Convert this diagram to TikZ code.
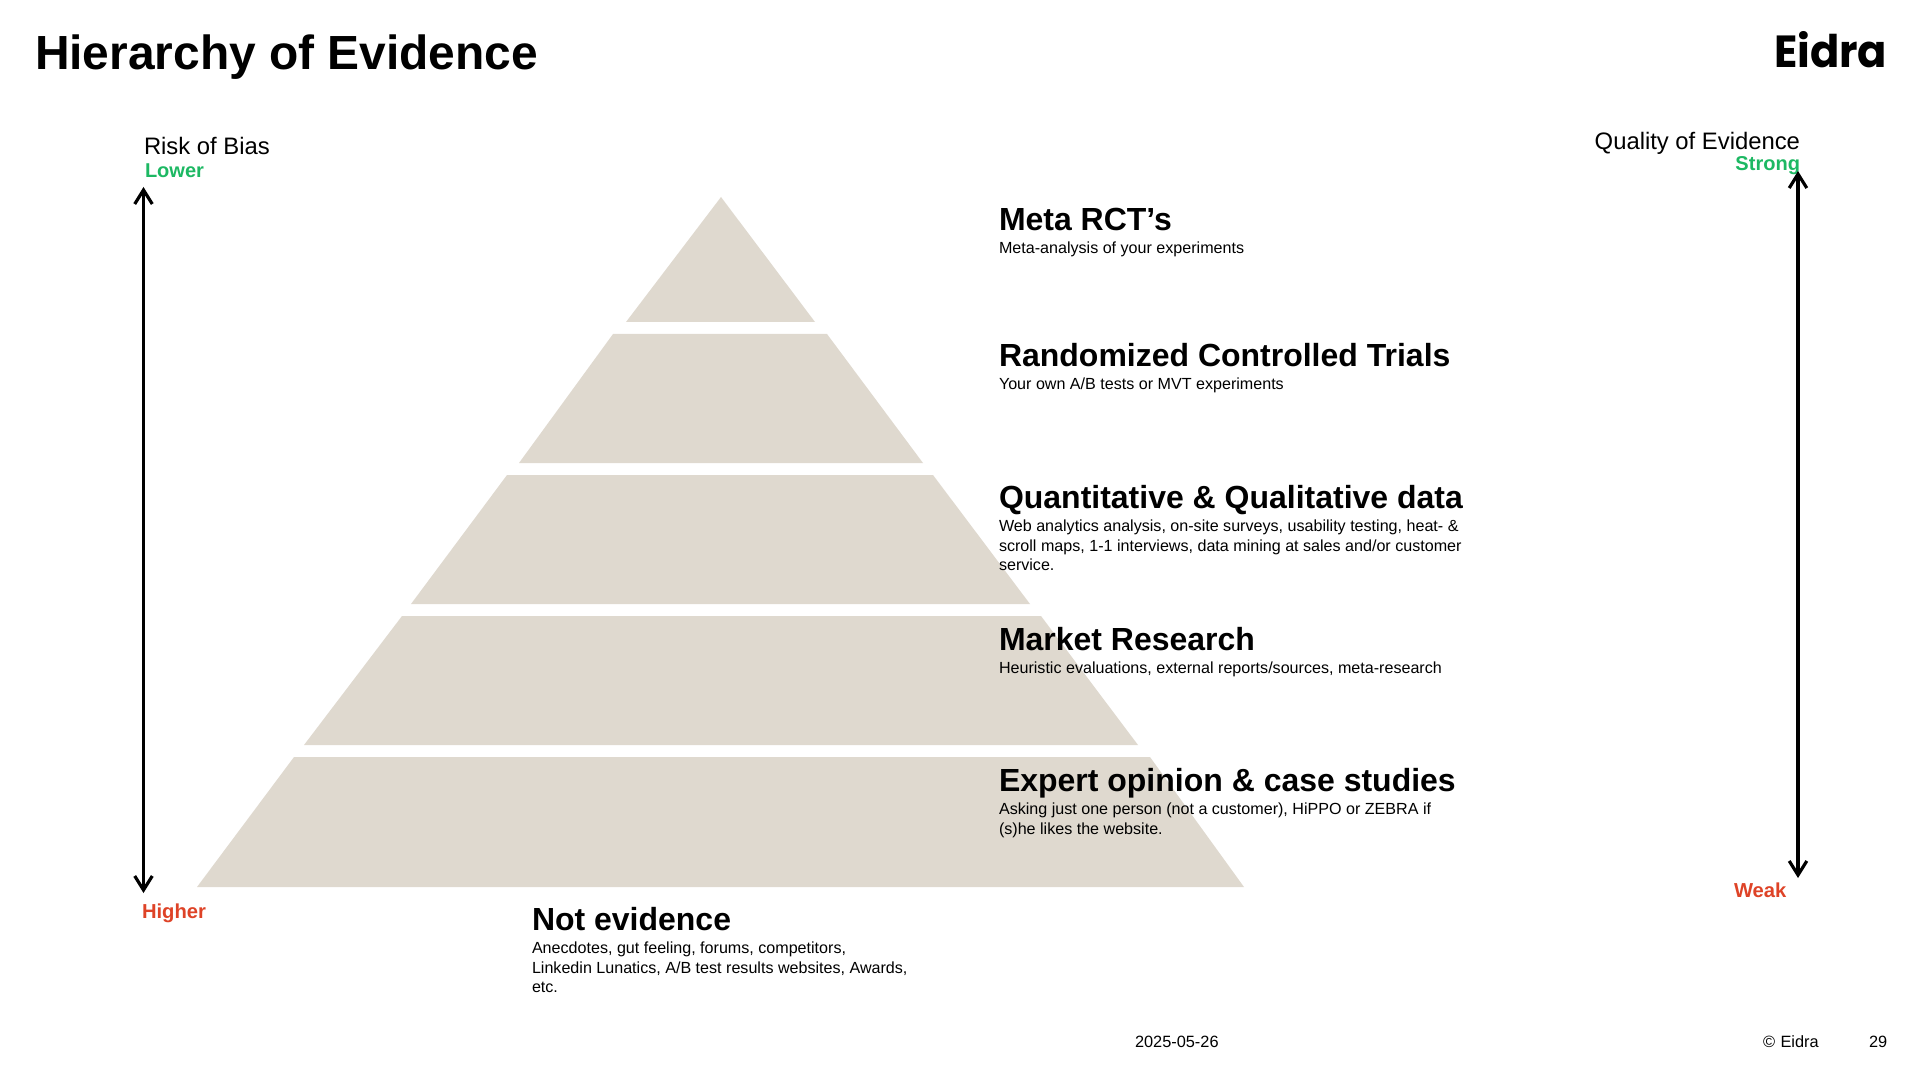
\documentclass[tikz,border=0pt]{standalone}
\usepackage{fontspec}
\setmainfont{Liberation Sans}
\newfontfamily\logofont{Poppins}
\usetikzlibrary{arrows.meta}
\definecolor{tiertan}{HTML}{DFD9CF}
\definecolor{stronggreen}{HTML}{1DB863}
\definecolor{weakred}{HTML}{DE4327}

\begin{document}
\begin{tikzpicture}[
    x=1cm, y=-1cm,
    every node/.style={inner sep=0pt, outer sep=0pt},
    tier/.style={fill=tiertan},
    heading/.style={anchor=base west, font=\fontsize{9.1}{11}\selectfont\bfseries},
    detail/.style={anchor=north west, align=left, font=\fontsize{4.58}{5.55}\selectfont},
    axistitle/.style={anchor=base west, font=\fontsize{6.78}{8.4}\selectfont},
    goodlabel/.style={anchor=base west, font=\fontsize{5.7}{6.7}\selectfont\bfseries, text=stronggreen},
    badlabel/.style={anchor=base west, font=\fontsize{5.75}{6.7}\selectfont\bfseries, text=weakred},
    footer/.style={anchor=base west, font=\fontsize{4.65}{5.6}\selectfont},
    arr/.style={{Straight Barb[length=4pt, width=5pt]}-{Straight Barb[length=4pt, width=5pt]}, line width=0.9pt},
]
\useasboundingbox (0,0) rectangle (19.2,10.8);

% --- Pyramid tiers, top to bottom ----------------------------------
\fill[tier] (7.21,1.97) -- (8.15,3.22) -- (6.26,3.22) -- cycle;
\fill[tier] (6.13,3.34) -- (8.27,3.34) -- (9.23,4.63) -- (5.19,4.63) -- cycle;
\fill[tier] (5.07,4.75) -- (9.33,4.75) -- (10.30,6.04) -- (4.11,6.04) -- cycle;
\fill[tier] (4.02,6.16) -- (10.41,6.16) -- (11.38,7.45) -- (3.04,7.45) -- cycle;
\fill[tier] (2.94,7.57) -- (11.50,7.57) -- (12.44,8.87) -- (1.97,8.87) -- cycle;

% --- Header ---------------------------------------------------------
\node[anchor=base west, font=\fontsize{13.63}{16}\selectfont\bfseries] (title) at (0.35,0.70) {Hierarchy of Evidence};
\node[anchor=base west, xscale=0.96, font=\fontsize{12.8}{16}\logofont\bfseries] (logo) at (17.74,0.68) {Eidra};

% --- Risk axis (left) -----------------------------------------------
\node[axistitle] (risk) at (1.44,1.55) {Risk of Bias};
\node[goodlabel] (lower) at (1.45,1.78) {Lower};
\node[badlabel] (higher) at (1.42,9.18) {Higher};
\coordinate (risktop) at (1.435,1.87);
\coordinate (riskbottom) at (1.435,8.93);
\draw[arr] (risktop) -- (riskbottom);

% --- Quality axis (right) -------------------------------------------
\node[axistitle, anchor=base east] (quality) at (18.00,1.50) {Quality of Evidence};
\node[goodlabel, anchor=base east] (strong) at (18.00,1.71) {Strong};
\node[badlabel] (weak) at (17.34,8.97) {Weak};
\coordinate (qualitytop) at (17.98,1.71);
\coordinate (qualitybottom) at (17.98,8.78);
\draw[arr] (qualitytop) -- (qualitybottom);

% --- Tier labels ----------------------------------------------------
\node[heading] (meta) at (9.99,2.31) {Meta RCT’s};
\node[detail] (metatxt) at (9.99,2.42) {Meta-analysis of your experiments};
\node[heading] (rct) at (9.99,3.67) {Randomized Controlled Trials};
\node[detail] (rcttxt) at (9.99,3.78) {Your own A/B tests or MVT experiments};
\node[heading] (quant) at (9.99,5.08) {Quantitative \& Qualitative data};
\node[detail] (quanttxt) at (9.99,5.20) {Web analytics analysis, on-site surveys, usability testing, heat- \&\\scroll maps, 1-1 interviews, data mining at sales and/or customer\\service.};
\node[heading] (market) at (9.99,6.50) {Market Research};
\node[detail] (markettxt) at (9.99,6.62) {Heuristic evaluations, external reports/sources, meta-research};
\node[heading] (expert) at (9.99,7.91) {Expert opinion \& case studies};
\node[detail] (experttxt) at (9.99,8.03) {Asking just one person (not a customer), HiPPO or ZEBRA if\\(s)he likes the website.};
\node[heading] (notev) at (5.32,9.30) {Not evidence};
\node[detail] (notevtxt) at (5.32,9.42) {Anecdotes, gut feeling, forums, competitors,\\Linkedin Lunatics, A/B test results websites, Awards,\\etc.};

% --- Footer ---------------------------------------------------------
\node[footer] (date) at (11.35,10.47) {2025-05-26};
\node[footer] (copy) at (17.63,10.47) {©\,\,Eidra};
\node[footer] (page) at (18.69,10.47) {29};
\end{tikzpicture}
\end{document}
